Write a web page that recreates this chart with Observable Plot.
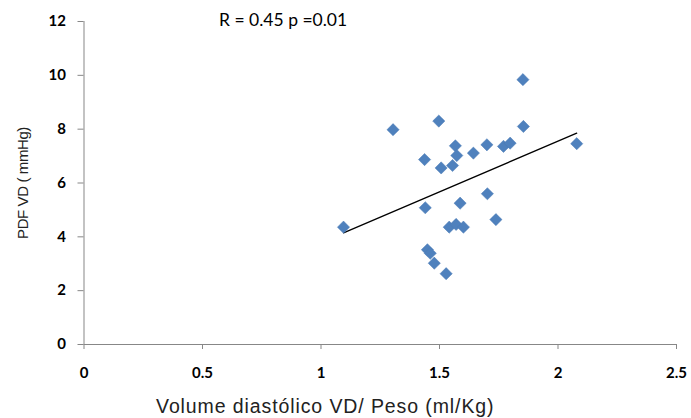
<!DOCTYPE html>
<html><head><meta charset="utf-8">
<script src="https://cdn.jsdelivr.net/npm/d3@7"></script>
<script src="https://cdn.jsdelivr.net/npm/@observablehq/plot@0.6"></script>
<style>body{margin:0;background:#fff}</style>
</head><body><div id="chart"></div>
<script>
const volume = [1.095,1.304,1.437,1.440,1.449,1.461,1.478,1.497,1.507,1.528,1.541,1.555,1.570,1.567,1.573,1.587,1.601,1.643,1.700,1.702,1.738,1.770,1.798,1.852,1.854,2.079];
const pdf    = [4.36,7.98,6.87,5.08,3.52,3.39,3.02,8.30,6.56,2.63,4.36,6.65,4.46,7.38,7.02,5.25,4.36,7.11,7.42,5.60,4.64,7.36,7.48,9.84,8.10,7.46];
const trendX = [1.095, 2.079];
const trendY = [4.15, 7.85];
const xTicks = [0, 0.5, 1, 1.5, 2, 2.5];
const yTicks = [0, 2, 4, 6, 8, 10, 12];
const annotation = "R = 0.45 p =0.01";
const xTitle = "Volume diastólico VD/ Peso (ml/Kg)";
const yTitle = "PDF VD ( mmHg)";

const points = volume.map((v, i) => ({x: v, y: pdf[i]}));
const trend = trendX.map((v, i) => ({x: v, y: trendY[i]}));
const axisColor = "#878787";

const chart = Plot.plot({
  width: 691, height: 418,
  marginLeft: 83.5, marginRight: 15, marginTop: 21, marginBottom: 74,
  style: {fontFamily: "Lato, sans-serif", background: "#fff", overflow: "visible"},
  x: {domain: [0, 2.5], ticks: xTicks},
  y: {domain: [0, 12], ticks: yTicks},
  marks: [
    Plot.ruleX([0], {stroke: axisColor, strokeWidth: 1}),
    Plot.ruleY([0], {stroke: axisColor, strokeWidth: 1}),
    Plot.axisX({ticks: xTicks, tickSize: 5, stroke: axisColor, tickPadding: 18, fontSize: 15, fontWeight: "bold", fill: "#000", label: null, tickFormat: d => String(d)}),
    Plot.axisY({ticks: yTicks, tickSize: 6, stroke: axisColor, tickPadding: 12, fontSize: 15, fontWeight: "bold", fill: "#000", label: null, tickFormat: d => String(d)}),
    Plot.line(trend, {x: "x", y: "y", stroke: "#000", strokeWidth: 1.3}),
    Plot.dot(points, {x: "x", y: "y", symbol: "diamond2", r: 5.5, fill: "#4F81BD", stroke: "#4A7AB5", strokeWidth: 0.5}),
    Plot.text([annotation], {frameAnchor: "top-left", dx: 135, dy: -1, textAnchor: "start", lineAnchor: "middle", fontSize: 17.5, fontFamily: "Lato, sans-serif", fill: "#000"}),
    Plot.text([xTitle], {frameAnchor: "bottom", dx: -55, dy: 62, textAnchor: "middle", lineAnchor: "middle", fontSize: 19.5, fontFamily: "Liberation Sans, Arial, sans-serif", fill: "#222"}),
    Plot.text([yTitle], {frameAnchor: "left", dx: -61, dy: 0, rotate: -90, textAnchor: "middle", lineAnchor: "middle", fontSize: 15, fontFamily: "Liberation Sans, Arial, sans-serif", fill: "#222"})
  ]
});
d3.select(chart).selectAll("text").each(function() {
  const t = this.textContent;
  if (t === xTitle) this.setAttribute("letter-spacing", "0.9");
  if (t === yTitle) this.setAttribute("letter-spacing", "-0.4");
});
document.getElementById("chart").appendChild(chart);
</script>
</body></html>
